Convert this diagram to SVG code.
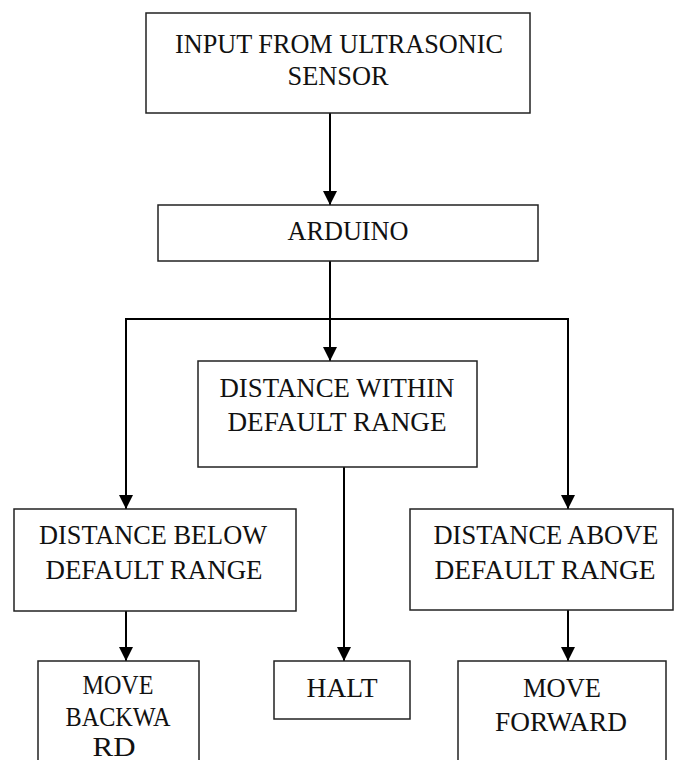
<svg xmlns="http://www.w3.org/2000/svg" width="675" height="760" viewBox="0 0 675 760">
<style>
.box{fill:#fff;stroke:#222;stroke-width:1.5}
.t{font-family:"Liberation Serif","Times New Roman",serif;font-size:28px;fill:#111;text-anchor:middle}
.c{fill:none;stroke:#000;stroke-width:2}
</style>
<defs>
<marker id="ah" markerUnits="userSpaceOnUse" viewBox="0 0 14 14" refX="14" refY="7" markerWidth="14" markerHeight="14" orient="auto">
<path d="M0,0 L14,7 L0,14 z" fill="#000"/>
</marker>
</defs>
<g id="connectors">
<line class="c" x1="330" y1="113" x2="330" y2="205" marker-end="url(#ah)"/>
<line class="c" x1="330" y1="261" x2="330" y2="319"/>
<line class="c" x1="125" y1="319" x2="569" y2="319"/>
<line class="c" x1="330" y1="319" x2="330" y2="361" marker-end="url(#ah)"/>
<line class="c" x1="126" y1="318" x2="126" y2="509" marker-end="url(#ah)"/>
<line class="c" x1="568" y1="318" x2="568" y2="509" marker-end="url(#ah)"/>
<line class="c" x1="126" y1="611" x2="126" y2="661" marker-end="url(#ah)"/>
<line class="c" x1="344" y1="467" x2="344" y2="661" marker-end="url(#ah)"/>
<line class="c" x1="568" y1="610" x2="568" y2="661" marker-end="url(#ah)"/>
</g>
<g id="input">
<rect class="box" x="146" y="13" width="384" height="100"/>
<text class="t" x="339" y="53" textLength="328" lengthAdjust="spacingAndGlyphs">INPUT FROM ULTRASONIC</text>
<text class="t" x="338" y="85" textLength="101" lengthAdjust="spacingAndGlyphs">SENSOR</text>
</g>
<g id="arduino">
<rect class="box" x="158" y="205" width="380" height="56"/>
<text class="t" x="348" y="240" textLength="121" lengthAdjust="spacingAndGlyphs">ARDUINO</text>
</g>
<g id="within">
<rect class="box" x="198" y="361" width="279" height="106"/>
<text class="t" x="337" y="397" textLength="235" lengthAdjust="spacingAndGlyphs">DISTANCE WITHIN</text>
<text class="t" x="337" y="431" textLength="219" lengthAdjust="spacingAndGlyphs">DEFAULT RANGE</text>
</g>
<g id="below">
<rect class="box" x="14" y="509" width="282" height="102"/>
<text class="t" x="153" y="544" textLength="228" lengthAdjust="spacingAndGlyphs">DISTANCE BELOW</text>
<text class="t" x="154" y="579" textLength="217" lengthAdjust="spacingAndGlyphs">DEFAULT RANGE</text>
</g>
<g id="above">
<rect class="box" x="410" y="509" width="263" height="101"/>
<text class="t" x="546" y="544" textLength="225" lengthAdjust="spacingAndGlyphs">DISTANCE ABOVE</text>
<text class="t" x="545" y="579" textLength="221" lengthAdjust="spacingAndGlyphs">DEFAULT RANGE</text>
</g>
<g id="backward">
<rect class="box" x="38" y="661" width="161" height="110"/>
<text class="t" x="118" y="694" textLength="71" lengthAdjust="spacingAndGlyphs">MOVE</text>
<text class="t" x="118" y="726" textLength="105" lengthAdjust="spacingAndGlyphs">BACKWA</text>
<text class="t" x="114" y="756" textLength="43" lengthAdjust="spacingAndGlyphs">RD</text>
</g>
<g id="halt">
<rect class="box" x="274" y="661" width="136" height="58"/>
<text class="t" x="342" y="697" textLength="71" lengthAdjust="spacingAndGlyphs">HALT</text>
</g>
<g id="forward">
<rect class="box" x="458" y="661" width="208" height="110"/>
<text class="t" x="562" y="697" textLength="78" lengthAdjust="spacingAndGlyphs">MOVE</text>
<text class="t" x="561" y="731" textLength="132" lengthAdjust="spacingAndGlyphs">FORWARD</text>
</g>
</svg>
